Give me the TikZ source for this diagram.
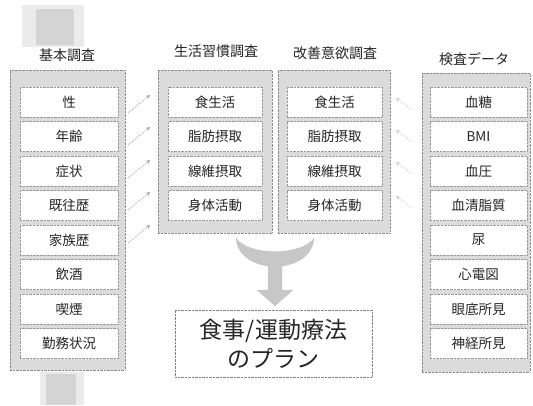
\documentclass[tikz,border=0pt]{standalone}
\usepackage{fontspec}
\newfontfamily\jp{Noto Sans CJK JP}
\usetikzlibrary{arrows.meta}
\begin{document}
\begin{tikzpicture}[x=1pt,y=-1pt,
  outerbox/.style={draw=black!45,densely dotted,fill=black!14},
  cell/.style={draw=black!40,densely dotted,fill=white,minimum height=30pt,inner sep=0pt,text=black!85,font=\jp\fontsize{13.5}{14}\selectfont},
  coltitle/.style={text=black!85,font=\jp\fontsize{14}{15}\selectfont},
  blob/.style={fill=black!8,draw=none},
  blobcore/.style={fill=black!17,draw=none},
  feed/.style={draw=black!35,densely dotted,line width=0.8pt,-{Stealth[length=4pt,width=4pt]}},
  feedfaint/.style={draw=black!20,densely dotted,line width=0.7pt,-{Stealth[length=4pt,width=4pt]}},
  merge/.style={fill=black!22,draw=black!30,densely dotted},
  plan/.style={draw=black!50,densely dotted,fill=white,minimum width=197pt,minimum height=67pt,align=center,text=black!85,font=\jp\fontsize{23}{29}\selectfont}]
\useasboundingbox (0,0) rectangle (533,405);
\fill[white] (0,0) rectangle (533,405);
% gray blobs behind the left column
\path[blob] (22,5) rectangle (84,47);
\path[blobcore] (36,9) rectangle (74,45);
\path[blob] (40,372) rectangle (84,405);
\path[blobcore] (46,374) rectangle (76,405);
% outer boxes
\node[outerbox,minimum width=115pt,minimum height=300pt,inner sep=0pt] (colA) at (67.5,220) {};
\node[outerbox,minimum width=114pt,minimum height=163pt,inner sep=0pt] (colB) at (215,151.5) {};
\node[outerbox,minimum width=112pt,minimum height=163pt,inner sep=0pt] (colC) at (334,151.5) {};
\node[outerbox,minimum width=108pt,minimum height=299pt,inner sep=0pt] (colD) at (476,222.5) {};
% titles
\node[coltitle] (tA) at (67,55) {基本調査};
\node[coltitle] (tB) at (216,51) {生活習慣調査};
\node[coltitle] (tC) at (335,53) {改善意欲調査};
\node[coltitle] (tD) at (474,59) {検査データ};
% left column cells
\foreach \t [count=\i from 0] in {性,年齢,症状,既往歴,家族歴,飲酒,喫煙,勤務状況}
  \node[cell,minimum width=98pt] (a\i) at (69,102+34.5*\i) {\t};
% middle columns
\foreach \t [count=\i from 0] in {食生活,脂肪摂取,線維摂取,身体活動}
  \node[cell,minimum width=94pt] (b\i) at (215,102+34.5*\i) {\t};
\foreach \t [count=\i from 0] in {食生活,脂肪摂取,線維摂取,身体活動}
  \node[cell,minimum width=95pt] (c\i) at (334.5,102+34.5*\i) {\t};
% right column
\foreach \t [count=\i from 0] in {血糖,BMI,血圧,血清脂質,尿,心電図,眼底所見,神経所見}
  \node[cell,minimum width=97pt] (d\i) at (478.5,102+34.5*\i) {\t};
% feed arrows left
\foreach \y [count=\i] in {113,145,178,210,243} {
  \coordinate (ls\i) at (128,\y);
  \coordinate (le\i) at (150,\y-18);
  \draw[feed] (ls\i) -- (le\i);
}
% faint feed arrows right
\foreach \y [count=\i] in {110,142,174,208} {
  \coordinate (rs\i) at (412,\y);
  \coordinate (re\i) at (396,\y-12);
  \draw[feedfaint] (rs\i) -- (re\i);
}
% merge arrow
\path[merge] (236,238) .. controls (238,276) and (312,276) .. (314,238)
  .. controls (302,256) and (248,256) .. cycle;
\path[merge] (268,264) -- (282,264) -- (282,290) -- (293,290) -- (275,306) -- (257,290) -- (268,290) -- cycle;
% plan box
\node[plan] (plan) at (273.5,343.5) {食事/運動療法\\のプラン};
\end{tikzpicture}
\end{document}
